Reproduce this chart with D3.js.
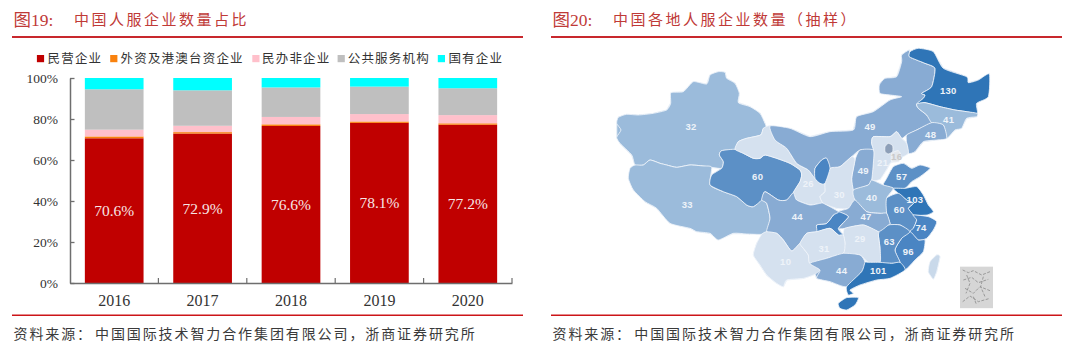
<!DOCTYPE html>
<html><head><meta charset="utf-8">
<style>html,body{margin:0;padding:0;background:#fff}svg{display:block}</style>
<script src="https://cdn.jsdelivr.net/npm/d3@7"></script></head>
<body><svg id="c" width="1080" height="351"></svg>
<script>
// ---- stacked bar data (percent)
const years = ["2016","2017","2018","2019","2020"];
const seriesNames = ["民营企业","外资及港澳台资企业","民办非企业","公共服务机构","国有企业"];
const privateShare = [70.6,72.9,76.6,78.1,77.2];
const foreignShare = [0.9,0.7,0.8,0.7,0.7];
const nonProfitShare = [3.3,3.1,3.6,3.6,4.0];
const publicShare = [19.7,17.3,14.4,13.4,13.1];
const stateShare = [5.5,6.0,4.6,4.2,5.0];
const yTicks = [0,20,40,60,80,100];
const seriesColors = ["#c00000","#f9820e","#ffc0cb","#bfbfbf","#00ffff"];

// ---- map data
const regionNames = ["新疆","西藏","青海","甘肃","内蒙古","黑龙江","吉林","辽宁","河北","山西","陕西","宁夏","山东","河南","江苏","安徽","浙江","福建","江西","湖北","湖南","重庆","四川","云南","贵州","广西","广东","海南","台湾","天津","北京"];
const regionValues = [32,33,60,26,49,130,41,48,21,49,30,80,57,40,103,60,74,96,63,47,29,80,44,10,31,44,101,101,20,16,15];
const unlabelled = ["宁夏","重庆","海南","台湾","北京"];
// outlines, in map units
const regionOutlines = [
[[80,370],[85,352],[110,343],[145,345],[190,340],[230,330],[242,310],[243,278],[280,275],[310,245],[350,252],[360,225],[385,215],[405,217],[410,235],[435,250],[448,280],[445,308],[480,320],[510,340],[525,370],[530,385],[520,385],[512,405],[470,415],[445,425],[435,448],[395,452],[388,465],[400,485],[395,505],[365,502],[340,498],[300,495],[260,502],[230,495],[210,490],[180,480],[160,495],[135,495],[125,465],[90,430],[80,412],[93,390]],
[[135,495],[160,495],[180,480],[210,490],[230,495],[260,502],[300,495],[340,498],[365,502],[360,555],[400,575],[440,590],[470,615],[490,620],[515,600],[530,610],[540,655],[530,695],[512,703],[470,702],[430,700],[385,720],[360,700],[320,695],[300,685],[240,670],[200,625],[165,605],[130,570],[115,535],[120,505]],
[[395,452],[435,448],[460,460],[490,475],[510,475],[525,465],[560,475],[600,490],[630,510],[635,525],[630,545],[610,578],[590,600],[565,600],[525,575],[515,600],[490,620],[470,615],[440,590],[400,575],[360,555],[365,525],[395,505],[400,485],[388,465]],
[[435,448],[445,425],[470,415],[512,405],[520,385],[540,378],[555,420],[590,445],[620,490],[655,510],[675,535],[690,550],[705,550],[705,575],[690,590],[700,610],[690,610],[660,615],[620,600],[610,578],[630,545],[635,525],[630,510],[600,490],[560,475],[525,465],[510,475],[490,475],[460,460]],
[[540,378],[600,385],[660,410],[720,395],[790,390],[800,350],[850,335],[900,300],[935,290],[900,285],[870,280],[868,255],[885,235],[920,230],[935,185],[935,165],[958,150],[958,170],[980,180],[1005,190],[1035,205],[1025,260],[995,280],[1005,285],[1000,295],[980,312],[985,325],[1010,345],[1025,368],[980,390],[950,405],[935,415],[920,395],[900,410],[850,410],[845,430],[850,450],[810,450],[785,470],[750,500],[720,505],[710,475],[695,480],[675,505],[675,535],[655,510],[620,490],[590,445],[555,420]],
[[960,155],[985,145],[1030,155],[1060,205],[1130,230],[1135,248],[1165,240],[1198,222],[1195,290],[1160,310],[1162,340],[1130,335],[1095,330],[1050,320],[1005,308],[980,312],[1000,295],[1005,285],[995,280],[1025,260],[1035,205],[1005,190],[980,180],[958,170]],
[[980,312],[1005,308],[1050,320],[1095,330],[1130,335],[1162,340],[1160,350],[1130,355],[1115,385],[1095,390],[1070,415],[1060,375],[1025,368],[1010,345],[985,325]],
[[950,405],[980,390],[1025,368],[1060,375],[1070,415],[1040,420],[1000,425],[975,455],[955,460],[950,430]],
[[850,410],[900,410],[920,395],[935,415],[950,430],[955,460],[930,475],[900,490],[892,505],[870,538],[845,540],[850,490],[850,450],[845,430]],
[[810,450],[850,450],[850,490],[845,540],[835,555],[790,570],[785,535],[795,480]],
[[785,470],[795,480],[785,535],[790,570],[795,600],[775,625],[740,625],[700,610],[690,590],[705,575],[705,550],[720,505],[750,500]],
[[710,475],[720,505],[705,550],[690,550],[675,535],[675,505],[695,480]],
[[890,535],[910,500],[940,490],[965,505],[990,495],[1020,505],[990,530],[965,545],[945,565],[910,565],[880,555]],
[[790,570],[835,555],[845,540],[880,555],[910,565],[890,595],[890,640],[870,640],[830,635],[795,600]],
[[910,565],[945,565],[980,560],[1000,585],[1015,615],[1030,635],[1010,645],[970,645],[955,625],[970,610],[950,600],[925,580]],
[[890,595],[925,580],[950,600],[970,610],[955,625],[970,645],[980,660],[970,685],[960,695],[930,675],[895,675],[900,670],[890,640]],
[[970,645],[1015,650],[1040,665],[1030,690],[1010,715],[985,720],[960,695],[970,685],[980,660]],
[[960,695],[985,720],[1005,720],[1000,755],[975,780],[945,810],[930,787],[915,750],[935,715]],
[[895,675],[930,675],[960,695],[935,715],[915,750],[930,787],[905,790],[870,787],[870,745],[865,705],[865,695]],
[[775,625],[795,600],[830,635],[870,640],[890,640],[900,670],[895,675],[865,695],[820,675],[765,685],[745,685],[775,650],[745,635]],
[[765,685],[820,675],[865,695],[865,705],[870,745],[870,787],[835,787],[810,765],[760,760],[765,730],[760,705]],
[[745,635],[775,650],[745,685],[760,705],[755,710],[745,705],[720,685],[680,695],[680,675],[710,670],[730,645]],
[[525,575],[565,600],[590,600],[610,578],[620,600],[660,615],[690,610],[700,610],[745,635],[730,645],[710,670],[680,675],[680,695],[650,700],[630,730],[605,753],[580,720],[560,700],[530,695],[540,655],[530,610],[515,600]],
[[530,695],[560,700],[580,720],[605,753],[630,730],[640,745],[655,765],[660,790],[690,810],[670,825],[640,835],[590,840],[580,860],[560,850],[530,825],[510,795],[490,765],[500,730],[515,703]],
[[650,700],[680,695],[720,685],[745,705],[760,705],[765,730],[760,760],[710,775],[660,790],[655,765],[640,745],[630,730]],
[[660,790],[710,775],[760,760],[810,765],[825,787],[815,815],[770,860],[720,845],[680,835],[690,810]],
[[825,787],[835,787],[870,787],[905,790],[930,787],[945,810],[900,835],[860,840],[810,855],[780,870],[790,880],[775,885],[770,860],[815,815]],
[[745,910],[770,893],[805,893],[795,915],[770,930],[750,925]],
[[1040,765],[1050,770],[1040,815],[1030,837],[1015,815],[1020,785]],
[[905,460],[925,452],[935,470],[925,485],[905,485]],
[[885,440],[895,430],[908,437],[908,455],[895,462],[885,455]]
];
const labelAnchors = {"新疆":[303,380],"西藏":[292,613],"青海":[503,530],"甘肃":[655,550],"内蒙古":[840,380],"黑龙江":[1075,273],"吉林":[1076,358],"辽宁":[1022,405],"河北":[878,488],"山西":[820,512],"陕西":[748,585],"山东":[935,530],"河南":[845,593],"江苏":[975,600],"安徽":[928,630],"浙江":[993,683],"福建":[955,755],"江西":[898,725],"湖北":[828,650],"湖南":[810,717],"四川":[622,650],"云南":[587,785],"贵州":[702,747],"广西":[755,813],"广东":[865,813],"天津":[920,470]};
const specialColors = {"北京":"#8d9fb8","天津":"#e3e7ec","台湾":"#c9d9ea"};
const insetStrokes = [[[1118,810],[1135,818],[1150,812],[1175,825],[1200,815]],[[1120,840],[1145,832],[1165,848],[1195,838]],[[1125,865],[1150,880],[1170,860],[1200,872]],[[1118,905],[1140,888],[1165,905],[1200,895]],[[1130,825],[1140,850],[1128,880]],[[1180,830],[1172,860],[1185,890]],[[1150,890],[1160,915]]];

// ---- page text
const titles = [["图19:","中国人服企业数量占比"],["图20:","中国各地人服企业数量（抽样）"]];
const sourceLabel = "资料来源：";
const sourceText = "中国国际技术智力合作集团有限公司，浙商证券研究所";

const svg = d3.select("#c");
const CJK = "'Noto Sans CJK SC',sans-serif";
const SERIF = "'Liberation Serif','Noto Sans CJK SC',serif";
const RED = "#bf3a37";

function txt(x,y,s,size,fill,ls,fam,anchor){
  return svg.append("text").attr("x",x).attr("y",y).attr("dy","0.35em").text(s)
    .attr("font-size",size).attr("fill",fill).attr("letter-spacing",ls||0)
    .attr("font-family",fam||CJK).attr("text-anchor",anchor||"start");
}
// panel frames
[[12,523,13.5,74,95,],[551,1062,552.5,613,634.3]].forEach((p,i)=>{
  svg.append("line").attr("x1",p[0]).attr("x2",p[1]).attr("y1",37).attr("y2",37).attr("stroke","#c8282d").attr("stroke-width",2);
  svg.append("line").attr("x1",p[0]).attr("x2",p[1]).attr("y1",315.3).attr("y2",315.3).attr("stroke","#cc1518").attr("stroke-width",1.5);
  txt(p[2],20,titles[i][0],17.5,RED,0,SERIF);
  txt(p[3],20,titles[i][1],15,RED,2.5);
  txt(p[2],334.3,sourceLabel,14,"#3a3a3a",1.9);
  txt(p[4],334.3,sourceText,14,"#3a3a3a",1.9);
});

// stacked bars
const x = d3.scaleBand().domain(years).range([70,512]).paddingInner(0.336).paddingOuter(0.168);
const y = d3.scaleLinear().domain([0,100]).range([283,78]);
const table = years.map((yr,i)=>({year:yr,s0:privateShare[i],s1:foreignShare[i],s2:nonProfitShare[i],s3:publicShare[i],s4:stateShare[i]}));
const stack = d3.stack().keys(["s0","s1","s2","s3","s4"])(table);
svg.append("g").selectAll("g").data(stack).join("g").attr("fill",(d,i)=>seriesColors[i])
  .selectAll("rect").data(d=>d).join("rect")
  .attr("x",d=>x(d.data.year)).attr("width",x.bandwidth())
  .attr("y",d=>y(d[1])).attr("height",d=>y(d[0])-y(d[1]));
svg.append("g").selectAll("text").data(table).join("text")
  .attr("x",d=>x(d.year)+x.bandwidth()/2).attr("y",d=>y(d.s0/2)).attr("dy","0.35em")
  .attr("text-anchor","middle").attr("fill","#f7e6e6").attr("font-family",SERIF).attr("font-size",15.5)
  .text(d=>d.s0.toFixed(1)+"%");

const AX="#6e6e6e";
const gy = svg.append("g").attr("transform","translate(70,0)")
  .call(d3.axisLeft(y).tickValues(yTicks).tickFormat(d=>d+"%").tickSize(-4.5).tickSizeOuter(0).tickPadding(12));
gy.selectAll("line").attr("stroke",AX).attr("stroke-width",1.3);
gy.select(".domain").attr("stroke",AX).attr("stroke-width",1.5);
gy.selectAll("text").attr("font-family",SERIF).attr("font-size",13.5).attr("fill","#333");
const gx = svg.append("g").attr("transform","translate(0,283)")
  .call(d3.axisBottom(x).tickSize(0).tickSizeOuter(0).tickPadding(12));
gx.select(".domain").attr("stroke",AX).attr("stroke-width",1.5);
gx.selectAll("text").attr("font-family",SERIF).attr("font-size",16).attr("fill","#333");
gx.selectAll(".edge").data(years).join("line").attr("class","edge")
  .attr("x1",d=>x(d)+x.bandwidth()+x.step()*0.168).attr("x2",d=>x(d)+x.bandwidth()+x.step()*0.168)
  .attr("y1",0).attr("y2",-5).attr("stroke",AX).attr("stroke-width",1.2);

// legend
const legendBoxX=[36.9,110.2,252.3,337.6,437.8], legendTextX=[47.5,120.5,262,347.7,448.4];
seriesNames.forEach((n,i)=>{
  svg.append("rect").attr("x",legendBoxX[i]).attr("y",55).attr("width",7.2).attr("height",7.2).attr("fill",seriesColors[i]);
  txt(legendTextX[i],58.3,n,12.5,"#333",1.2);
});

// map
const colorOf = d3.scaleThreshold().domain([32,44,57,70,100]).range(["#d5e1ef","#9bbbdb","#88abd3","#5c90c6","#4a85c3","#2f75b7"]);
const features = regionNames.map((n,i)=>({type:"Feature",properties:{name:n,value:regionValues[i]},
  geometry:{type:"Polygon",coordinates:[regionOutlines[i]]}}));
const proj = d3.geoIdentity().scale(1/3).translate([590,0]);
const geo = d3.geoPath(proj);
const fillOf = d=>specialColors[d.properties.name]||colorOf(d.properties.value);
// base layer closes small seams between neighbours, upper layer carries the soft outline
svg.append("g").selectAll("path").data(features).join("path").attr("d",geo)
  .attr("fill",fillOf).attr("stroke","#e8eff7").attr("stroke-width",1.2).attr("stroke-linejoin","round");
const smooth = d3.line().x(d=>proj(d)[0]).y(d=>proj(d)[1]).curve(d3.curveCardinalClosed.tension(0.4));
svg.append("g").selectAll("path").data(features).join("path")
  .attr("d",d=>smooth(d.geometry.coordinates[0]))
  .attr("fill",fillOf).attr("stroke","#f2f6fb").attr("stroke-width",0.8).attr("stroke-linejoin","round");
svg.append("g").selectAll("text").data(features.filter(d=>!unlabelled.includes(d.properties.name))).join("text")
  .attr("x",d=>proj(labelAnchors[d.properties.name])[0]).attr("y",d=>proj(labelAnchors[d.properties.name])[1])
  .attr("dy","0.35em").attr("text-anchor","middle").attr("font-family","'Liberation Sans',sans-serif")
  .attr("font-size",9.5).attr("font-weight","bold").attr("letter-spacing",0.3)
  .attr("fill",d=>d.properties.name==="天津"?"#c9c9c9":"#eef3f9")
  .text(d=>d.properties.value);
// South China Sea inset
const [ix,iy]=proj([1110,800]);
svg.append("rect").attr("x",ix).attr("y",iy).attr("width",33).attr("height",41.5).attr("fill","#d6d6d6");
const inset = d3.line().x(d=>proj(d)[0]).y(d=>proj(d)[1]);
svg.append("g").selectAll("path").data(insetStrokes).join("path").attr("d",inset)
  .attr("fill","none").attr("stroke","#8a8a8a").attr("stroke-width",0.8).attr("stroke-dasharray","3 1.5");
</script></body></html>
